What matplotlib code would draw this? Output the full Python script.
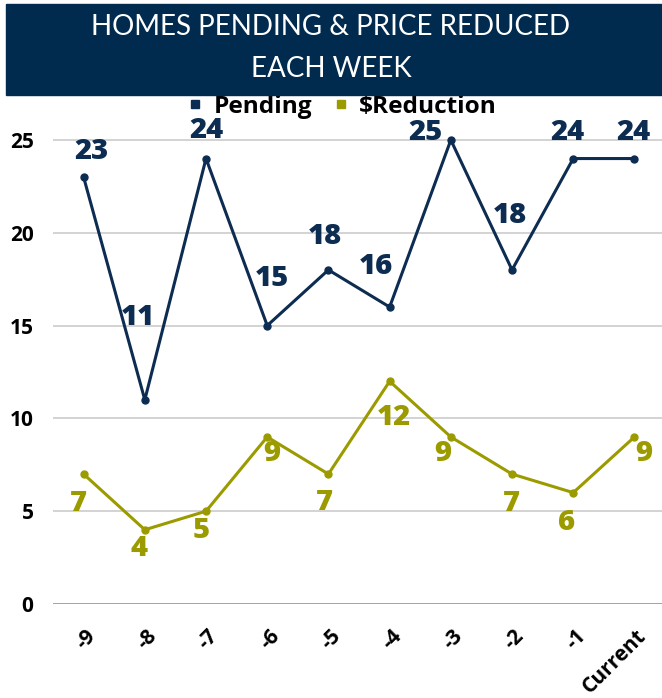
import matplotlib
matplotlib.use("Agg")
import matplotlib.pyplot as plt
from matplotlib.patches import Rectangle
from matplotlib.transforms import ScaledTranslation

weeks = ["-9", "-8", "-7", "-6", "-5", "-4", "-3", "-2", "-1", "Current"]
pending = [23, 11, 24, 15, 18, 16, 25, 18, 24, 24]
reduction = [7, 4, 5, 9, 7, 12, 9, 7, 6, 9]

# label offsets in pixels (dx, dy), picked by eye
pend_off = [(8, 26), (-7, 82), (0, 28), (5, 47), (-4, 33), (-14, 41), (-25, 7), (-2, 54), (-6, 26), (-1, 26)]
red_off = [(-5, -29), (-6, -19), (-5, -19), (5, -17), (-4, -28), (4, -36), (-8, -17), (-1, -29), (-7, -30), (9, -17)]

navy = "#0d2c52"
olive = "#9b9b00"
banner = "#002a4e"

fig = plt.figure(figsize=(6.62, 6.98), dpi=100)
fig.patches.append(Rectangle((6 / 662, 1 - 95 / 698), 656 / 662, 91 / 698,
                             transform=fig.transFigure, color=banner, zorder=0))
fig.text(0.5, 1 - 35 / 698, "HOMES PENDING & PRICE REDUCED", color="white",
         family="Lato", fontsize=20, ha="center", va="baseline")
fig.text(0.5, 1 - 77 / 698, "EACH WEEK", color="white",
         family="Lato", fontsize=20, ha="center", va="baseline")

ax = fig.add_axes([53 / 662, 1 - 604 / 698, 609 / 662, 508 / 698])
x = range(len(weeks))
ax.plot(x, pending, color=navy, lw=2.2, marker="o", ms=5, label="Pending", zorder=3)
ax.plot(x, reduction, color=olive, lw=2.2, marker="o", ms=5, label="$Reduction", zorder=3)

for i, v in enumerate(pending):
    ax.annotate(str(v), (i, v), xytext=pend_off[i], textcoords="offset pixels",
                ha="center", va="center", color=navy, family="Open Sans",
                fontweight=800, fontsize=21, annotation_clip=False)
for i, v in enumerate(reduction):
    ax.annotate(str(v), (i, v), xytext=red_off[i], textcoords="offset pixels",
                ha="center", va="center", color=olive, family="Open Sans",
                fontweight=800, fontsize=21, annotation_clip=False)

ax.set_xlim(-0.5, 9.45)
ax.set_ylim(0, 27.37)
ax.set_yticks([0, 5, 10, 15, 20, 25])
ax.set_xticks(list(x))
ax.tick_params(axis="x", length=0, pad=21)
ax.tick_params(axis="y", length=0, pad=14)
ax.set_xticklabels(weeks, rotation=45, ha="right", va="center", rotation_mode="anchor",
                   family="Open Sans", fontweight="bold", fontsize=15)
for lab in ax.get_xticklabels():
    lab.set_transform(lab.get_transform() + ScaledTranslation(0.09, 0, fig.dpi_scale_trans))
for lab in ax.get_yticklabels():
    lab.set_family("Open Sans")
    lab.set_fontweight("bold")
    lab.set_fontsize(15)
ax.grid(axis="y", color="#c8c8c8", lw=1.1)
ax.axhline(0, color="#a0a0a0", lw=1.3, zorder=2)
for s in ax.spines.values():
    s.set_visible(False)

leg = ax.legend(loc="center", bbox_to_anchor=(0.5 + 12 / 662, 1 - 107 / 698), bbox_transform=fig.transFigure,
                ncol=2, frameon=False, handlelength=0.5, handletextpad=0.5, columnspacing=0.9,
                prop={"family": "Open Sans", "weight": "bold", "size": 17.6})
for h in leg.legend_handles:
    h.set_linestyle("none")
    h.set_marker("s")
    h.set_markersize(6)

fig.savefig("out.png", dpi=100)
